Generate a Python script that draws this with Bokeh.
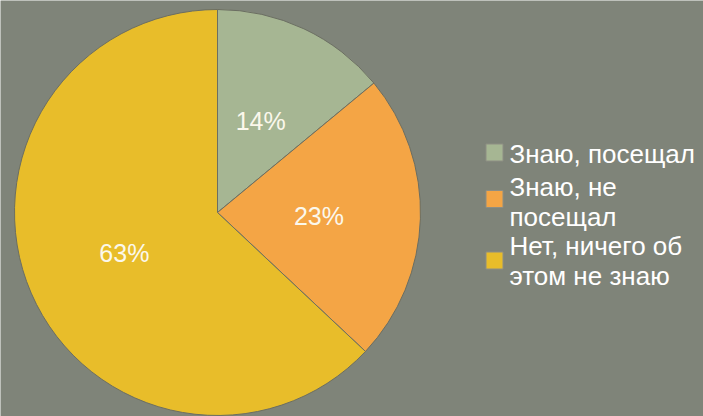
import math
from bokeh.plotting import figure
from bokeh.models import ColumnDataSource, Range1d
from bokeh.core.properties import value
from bokeh.embed import file_html
from bokeh.resources import INLINE

categories = ["Знаю, посещал", "Знаю, не посещал", "Нет, ничего об этом не знаю"]
shares = [14, 23, 63]
pct_labels = ["14%", "23%", "63%"]
legend_lines = [["Знаю, посещал"], ["Знаю, не", "посещал"], ["Нет, ничего об", "этом не знаю"]]
colors = ["#A6B693", "#F4A545", "#E8BD2A"]

W, H = 703, 416
cx, cy, R = 217, H - 212, 203

p = figure(width=W, height=H, output_backend="svg", toolbar_location=None,
           x_range=Range1d(0, W), y_range=Range1d(0, H),
           background_fill_color="#7F8479", border_fill_color="#7F8479",
           min_border=0, outline_line_color=None)
p.axis.visible = False
p.grid.visible = False

total = sum(shares)
starts, ends, mids = [], [], []
cum = 0
for s in shares:
    a0 = math.pi / 2 - 2 * math.pi * (cum + s) / total
    a1 = math.pi / 2 - 2 * math.pi * cum / total
    starts.append(a0)
    ends.append(a1)
    mids.append((a0 + a1) / 2)
    cum += s

src = ColumnDataSource(dict(start=starts, end=ends, color=colors,
                            x=[cx] * 3, y=[cy] * 3))
p.wedge(x="x", y="y", radius=R, start_angle="start", end_angle="end",
        fill_color="color", line_color="#6B6E62", line_width=1, source=src)

lx = [cx + 0.5 * R * math.cos(m) for m in mids]
ly = [cy + 0.5 * R * math.sin(m) for m in mids]
p.text(x=lx, y=ly, text=pct_labels, text_align="center", text_baseline="middle",
       text_color="#FBF8EC", text_font=value("Liberation Sans"), text_font_size="25px")

# legend
sq_y = [H - 152, H - 198.5, H - 260]
p.rect(x=[494] * 3, y=sq_y, width=17, height=17, fill_color=colors,
       line_color="#8E8E84", line_width=1)
line_y = [[H - 153], [H - 186, H - 216], [H - 245, H - 275]]
tx, ty, tt = [], [], []
for lines, ys in zip(legend_lines, line_y):
    for t, yy in zip(lines, ys):
        tx.append(509)
        ty.append(yy)
        tt.append(t)
p.text(x=tx, y=ty, text=tt, text_align="left", text_baseline="middle",
       text_color="#FFFFFF", text_font=value("Liberation Sans"), text_font_size="26px")

open("out.html", "w").write(file_html(p, INLINE))
